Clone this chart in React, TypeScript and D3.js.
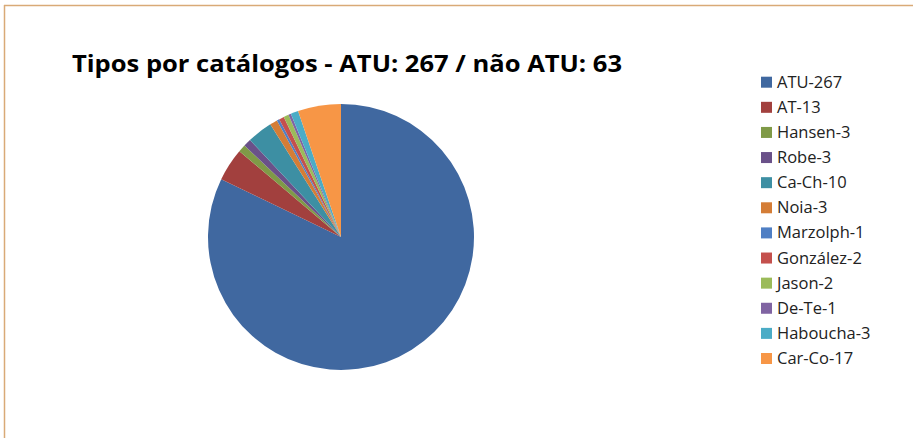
import React from "react";
import * as d3 from "d3";

const categories = ["ATU", "AT", "Hansen", "Robe", "Ca-Ch", "Noia", "Marzolph", "González", "Jason", "De-Te", "Haboucha", "Car-Co"];
const values = [267, 13, 3, 3, 10, 3, 1, 2, 2, 1, 3, 17];
const colors = ["#4068a0", "#a2403e", "#7f9a47", "#6a5189", "#3d8fa3", "#d47d36", "#4f7fc4", "#c4504d", "#9bbb59", "#8064a2", "#4bacc6", "#f79646"];
const title = "Tipos por catálogos - ATU: 267 / não ATU: 63";

export default function App() {
  const W = 913, H = 438;
  const cx = 341, cy = 237, r = 133;
  const data = categories.map((c, i) => ({ c, v: values[i], color: colors[i] }));
  const pie = d3.pie<any>().value((d: any) => d.v).sort(null);
  const arcs = pie(data);
  const arc = d3.arc<any>().innerRadius(0).outerRadius(r);
  const legY = d3.scaleLinear().domain([0, categories.length - 1]).range([87.7, 364]);
  return (
    <svg width={W} height={H} style={{ position: "absolute", left: 0, top: 0 }}>
      <rect x={0} y={0} width={W} height={H} fill="#fff" />
      <line x1={4.5} y1={5} x2={4.5} y2={H} stroke="#d9aa77" strokeWidth={1.5} />
      <line x1={4} y1={5.5} x2={W} y2={5.5} stroke="#d9aa77" strokeWidth={1.5} />
      <text x={72} y={72} fontFamily="'Open Sans', sans-serif" fontWeight="bold" fontSize={24} fill="#000" textLength={550} lengthAdjust="spacingAndGlyphs">{title}</text>
      <g transform={`translate(${cx},${cy})`}>
        {arcs.map((a, i) => (
          <path key={i} d={arc(a) as string} fill={a.data.color} stroke="none" />
        ))}
      </g>
      {data.map((d, i) => (
        <g key={i}>
          <rect x={761} y={legY(i) - 11} width={11} height={11} fill={d.color} />
          <text x={777} y={legY(i)} fontFamily="'Open Sans', sans-serif" fontSize={16.5} fill="#222">{`${d.c}-${d.v}`}</text>
        </g>
      ))}
    </svg>
  );
}
